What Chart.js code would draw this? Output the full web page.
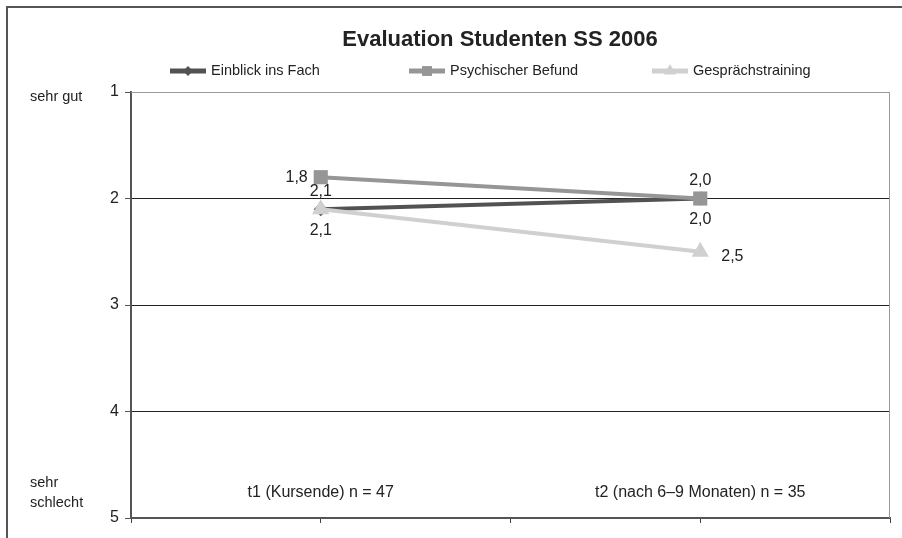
<!DOCTYPE html>
<html>
<head>
<meta charset="utf-8">
<script src="https://cdn.jsdelivr.net/npm/chart.js@4.4.1/dist/chart.umd.min.js"></script>
<style>
html, body { margin: 0; padding: 0; background: #fff; }
</style>
</head>
<body>
<canvas id="myChart" width="902" height="538"></canvas>
<script>
"use strict"

// data
const TITLE = 'Evaluation Studenten SS 2006'
const CATEGORIES = ['t1 (Kursende) n = 47', 't2 (nach 6–9 Monaten) n = 35']
const SERIES_NAMES = ['Einblick ins Fach', 'Psychischer Befund', 'Gesprächstraining']
const EINBLICK = [2.1, 2.0]
const PSYCH = [1.8, 2.0]
const GESPRAECH = [2.1, 2.5]
const Y_TICKS = [1, 2, 3, 4, 5]
const Y_END_LABELS = ['sehr gut', ['sehr', 'schlecht']]

// styles
const FONT = "'Liberation Sans', Arial, sans-serif"
const COLORS = ['rgb(82,82,82)', 'rgb(150,150,150)', 'rgb(208,208,208)']
const MARKERS = ['rectRot', 'rect', 'triangle']
const MARKER_R = [7, 10, 10]
const LABEL_POS = [['above', 'below'], ['left', 'above'], ['below', 'right']]
const LEGEND_X = [170, 409, 652]

function toPoints(vals) {
    // categories sit on every second tick of the x axis (1, 3)
    return vals.map((v, i) => ({x: 1 + 2 * i, y: v}))
}

function fmt(v) {
    return v.toFixed(1).replace('.', ',')
}

const allSeries = [EINBLICK, PSYCH, GESPRAECH]

const extras = {
    id: 'extras',
    beforeDatasetsDraw(chart) {
        const ctx = chart.ctx
        const a = chart.chartArea
        ctx.save()
        ctx.strokeStyle = '#999'
        ctx.lineWidth = 1
        ctx.beginPath()
        ctx.moveTo(a.left, a.top + 0.5)
        ctx.lineTo(a.right - 0.5, a.top + 0.5)
        ctx.lineTo(a.right - 0.5, a.bottom)
        ctx.stroke()
        ctx.restore()
    },
    afterDraw(chart) {
        const ctx = chart.ctx
        const xs = chart.scales.x
        const ys = chart.scales.y
        ctx.save()

        // outer chart frame (left and top edge visible)
        ctx.strokeStyle = '#555'
        ctx.lineWidth = 2
        ctx.beginPath()
        ctx.moveTo(7, chart.height)
        ctx.lineTo(7, 7)
        ctx.lineTo(chart.width, 7)
        ctx.stroke()

        // title
        ctx.fillStyle = '#222'
        ctx.textAlign = 'center'
        ctx.textBaseline = 'middle'
        ctx.font = 'bold 22px ' + FONT
        ctx.fillText(TITLE, 500, 40)

        // legend
        ctx.font = '14.5px ' + FONT
        ctx.textAlign = 'left'
        SERIES_NAMES.forEach((name, i) => {
            const x0 = LEGEND_X[i]
            ctx.strokeStyle = COLORS[i]
            ctx.lineWidth = 5
            ctx.beginPath()
            ctx.moveTo(x0, 71)
            ctx.lineTo(x0 + 36, 71)
            ctx.stroke()
            ctx.fillStyle = COLORS[i]
            Chart.helpers.drawPoint(ctx, {pointStyle: MARKERS[i], radius: MARKER_R[i] * 0.7, rotation: 0, borderWidth: 0}, x0 + 18, 71)
            ctx.fillStyle = '#222'
            ctx.fillText(name, x0 + 41, 71)
        })

        // end labels of the rating scale
        ctx.font = '14.5px ' + FONT
        ctx.fillText(Y_END_LABELS[0], 30, ys.getPixelForValue(1) + 5)
        ctx.fillText(Y_END_LABELS[1][0], 30, ys.getPixelForValue(5) - 35)
        ctx.fillText(Y_END_LABELS[1][1], 30, ys.getPixelForValue(5) - 15)

        // category labels inside the plot
        ctx.font = '16px ' + FONT
        ctx.textAlign = 'center'
        CATEGORIES.forEach((c, i) => {
            ctx.fillText(c, xs.getPixelForValue(1 + 2 * i), ys.getPixelForValue(5) - 25)
        })

        // data labels
        ctx.font = '16px ' + FONT
        allSeries.forEach((vals, si) => {
            const meta = chart.getDatasetMeta(si)
            meta.data.forEach((pt, i) => {
                const pos = LABEL_POS[si][i]
                let x = pt.x, y = pt.y
                if (pos == 'above') { ctx.textAlign = 'center'; y -= 18 }
                else if (pos == 'below') { ctx.textAlign = 'center'; y += 21 }
                else if (pos == 'left') { ctx.textAlign = 'right'; x -= 13 }
                else { ctx.textAlign = 'left'; x += 21; y += 5 }
                ctx.fillText(fmt(vals[i]), x, y)
            })
        })
        ctx.restore()
    }
}

const ctx = document.getElementById('myChart')

let eval_chart = new Chart(ctx, {
    type: 'line',
    data: {
        datasets: SERIES_NAMES.map((name, i) => ({
            label: name,
            data: toPoints(allSeries[i]),
            borderColor: COLORS[i],
            backgroundColor: COLORS[i],
            borderWidth: 4,
            pointStyle: MARKERS[i],
            pointRadius: MARKER_R[i],
            pointBackgroundColor: COLORS[i],
            pointBorderWidth: 0,
            order: 3 - i,
            tension: 0,
        }))
    },
    options: {
        responsive: false,
        animation: false,
        layout: {padding: {top: 92, right: 12, left: 0, bottom: 0}},
        plugins: {
            legend: {display: false},
            title: {display: false},
            tooltip: {enabled: false},
        },
        scales: {
            x: {
                type: 'linear',
                min: 0,
                max: 4,
                ticks: {stepSize: 1, display: false},
                grid: {drawOnChartArea: false, drawTicks: true, tickLength: 5, color: '#444'},
                border: {color: '#555', width: 2},
                afterFit: s => { s.height = 20 },
            },
            y: {
                reverse: true,
                min: 1,
                max: 5,
                ticks: {
                    stepSize: 1,
                    color: '#222',
                    font: {family: FONT, size: 16},
                    padding: 6,
                    callback: v => Y_TICKS.includes(v) ? String(v) : '',
                },
                grid: {
                    color: c => (c.tick && c.tick.value === 1) ? '#999' : '#222',
                    tickColor: '#555',
                    tickLength: 6,
                    lineWidth: 1,
                },
                border: {color: '#555', width: 2},
                afterFit: s => { s.width = 131 },
            }
        }
    },
    plugins: [extras]
})
</script>
</body>
</html>
